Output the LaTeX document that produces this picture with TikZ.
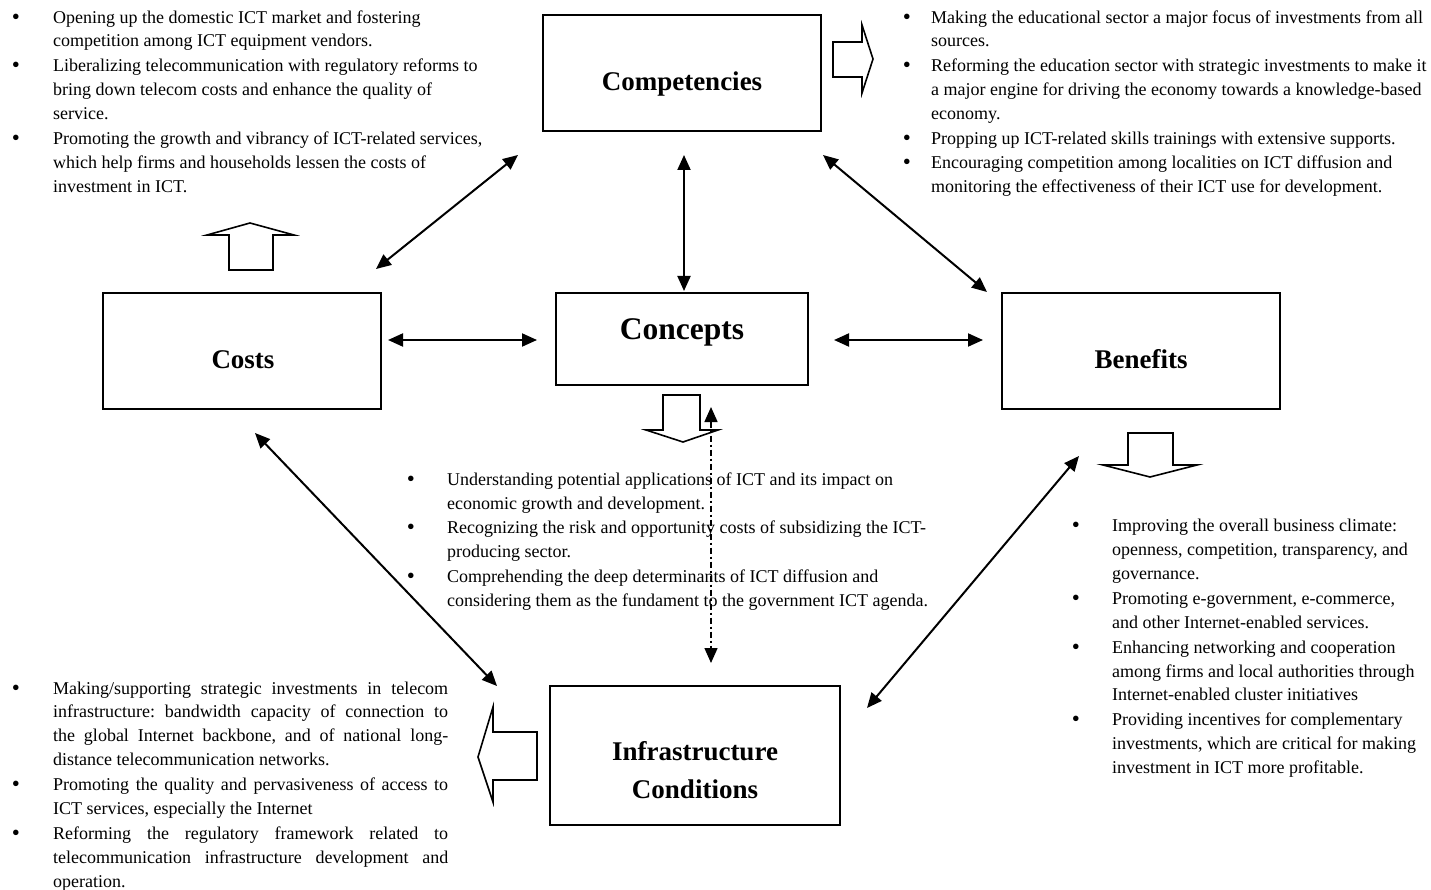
\documentclass[tikz,border=0pt]{standalone}
\usepackage{fontspec}
\setmainfont{Liberation Serif}
\usetikzlibrary{arrows.meta}
\begin{document}
\begin{tikzpicture}[x=1pt,y=-1pt,
  box/.style={draw,line width=1.8pt,inner sep=0pt},
  conn/.style={line width=2pt,{Triangle[length=15pt,width=13pt]}-{Triangle[length=15pt,width=13pt]}},
  dconn/.style={line width=1.5pt,dash pattern=on 6pt off 3pt on 2pt off 3pt,{Triangle[length=15pt,width=13pt]}-{Triangle[length=15pt,width=13pt]}},
  blk/.style={draw,line width=1.6pt,line join=miter},
  head/.style={font=\fontsize{27}{30}\selectfont\bfseries,anchor=base,inner sep=0pt},
  body/.style={font=\fontsize{18}{22}\selectfont\frenchspacing,anchor=base west,inner sep=0pt},
  bul/.style={font=\fontsize{23}{23}\selectfont,anchor=center,inner sep=0pt},
]
\useasboundingbox (0,0) rectangle (1431,890);
\fill[white] (0,0) rectangle (1431,890);

% boxes
\node[box,minimum width=278pt,minimum height=116pt] (comp) at (682,73) {};
\node[box,minimum width=278pt,minimum height=116pt] (costs) at (242,351) {};
\node[box,minimum width=252pt,minimum height=92pt] (conc) at (682,339) {};
\node[box,minimum width=278pt,minimum height=116pt] (bene) at (1141,351) {};
\node[box,minimum width=290pt,minimum height=139pt] (infra) at (695,755.5) {};

% headings
\node[head] (compL) at (682,91) {Competencies};
\node[head,font=\fontsize{31.5}{34}\selectfont\bfseries] (concL) at (682,339) {Concepts};
\node[head] (costsL) at (243,368) {Costs};
\node[head] (beneL) at (1141,368) {Benefits};
\node[head] (infraL1) at (695,760) {Infrastructure};
\node[head] (infraL2) at (695,798) {Conditions};

% block arrows
\draw[blk] (833,42) -- (862,42) -- (862,25) -- (873,59) -- (862,93) -- (862,77) -- (833,77) -- cycle;
\draw[blk] (229,270) -- (229,235) -- (207,235) -- (250,223) -- (294,235) -- (273,235) -- (273,270) -- cycle;
\draw[blk] (663,395) -- (700,395) -- (700,430) -- (718,430) -- (683,442) -- (646,430) -- (663,430) -- cycle;
\draw[blk] (1128,433) -- (1173,433) -- (1173,465) -- (1197,465) -- (1150,477) -- (1103,465) -- (1128,465) -- cycle;
\draw[blk] (537,732) -- (493,732) -- (493,707) -- (478,757) -- (493,802) -- (493,780) -- (537,780) -- cycle;

% connector end points
\coordinate (a1) at (518,155); \coordinate (b1) at (376,269);
\coordinate (a2) at (684,155); \coordinate (b2) at (684,291);
\coordinate (a3) at (823,155); \coordinate (b3) at (987,292);
\coordinate (a4) at (388,340); \coordinate (b4) at (537,340);
\coordinate (a5) at (834,340); \coordinate (b5) at (983,340);
\coordinate (a6) at (255,433); \coordinate (b6) at (497,686);
\coordinate (a7) at (1079,456); \coordinate (b7) at (867,708);
\coordinate (a8) at (711,407); \coordinate (b8) at (711,663);
\draw[conn] (a1) -- (b1);
\draw[conn] (a2) -- (b2);
\draw[conn] (a3) -- (b3);
\draw[conn] (a4) -- (b4);
\draw[conn] (a5) -- (b5);
\draw[conn] (a6) -- (b6);
\draw[conn] (a7) -- (b7);
\draw[dconn] (a8) -- (b8);

\begin{scope}[yshift=-2.5pt]
% top-left text
\node[bul] (tlb1) at (16,17) {\textbullet};
\node[body] (tl1) at (53,21) {Opening up the domestic ICT market and fostering};
\node[body] (tl2) at (53,44) {competition among ICT equipment vendors.};
\node[bul] (tlb2) at (16,65) {\textbullet};
\node[body] (tl3) at (53,69) {Liberalizing telecommunication with regulatory reforms to};
\node[body] (tl4) at (53,93) {bring down telecom costs and enhance the quality of};
\node[body] (tl5) at (53,117) {service.};
\node[bul] (tlb3) at (16,138) {\textbullet};
\node[body] (tl6) at (53,142) {Promoting the growth and vibrancy of ICT-related services,};
\node[body] (tl7) at (53,166) {which help firms and households lessen the costs of};
\node[body] (tl8) at (53,190) {investment in ICT.};

% top-right text
\node[bul] (trb1) at (907,17) {\textbullet};
\node[body] (tr1) at (931,21) {Making the educational sector a major focus of investments from all};
\node[body] (tr2) at (931,44) {sources.};
\node[bul] (trb2) at (907,65) {\textbullet};
\node[body] (tr3) at (931,69) {Reforming the education sector with strategic investments to make it};
\node[body] (tr4) at (931,93) {a major engine for driving the economy towards a knowledge-based};
\node[body] (tr5) at (931,117) {economy.};
\node[bul] (trb3) at (907,138) {\textbullet};
\node[body] (tr6) at (931,142) {Propping up ICT-related skills trainings with extensive supports.};
\node[bul] (trb4) at (907,162) {\textbullet};
\node[body] (tr7) at (931,166) {Encouraging competition among localities on ICT diffusion and};
\node[body] (tr8) at (931,190) {monitoring the effectiveness of their ICT use for development.};

% middle text
\node[bul] (mb1) at (411,479) {\textbullet};
\node[body] (m1) at (447,483) {Understanding potential applications of ICT and its impact on};
\node[body] (m2) at (447,507) {economic growth and development.};
\node[bul] (mb2) at (411,527) {\textbullet};
\node[body] (m3) at (447,531) {Recognizing the risk and opportunity costs of subsidizing the ICT-};
\node[body] (m4) at (447,555) {producing sector.};
\node[bul] (mb3) at (411,576) {\textbullet};
\node[body] (m5) at (447,580) {Comprehending the deep determinants of ICT diffusion and};
\node[body] (m6) at (447,604) {considering them as the fundament to the government ICT agenda.};

% right text
\node[bul] (rb1) at (1076,525) {\textbullet};
\node[body] (r1) at (1112,529) {Improving the overall business climate:};
\node[body] (r2) at (1112,553) {openness, competition, transparency, and};
\node[body] (r3) at (1112,577) {governance.};
\node[bul] (rb2) at (1076,598) {\textbullet};
\node[body] (r4) at (1112,602) {Promoting e-government, e-commerce,};
\node[body] (r5) at (1112,626) {and other Internet-enabled services.};
\node[bul] (rb3) at (1076,647) {\textbullet};
\node[body] (r6) at (1112,651) {Enhancing networking and cooperation};
\node[body] (r7) at (1112,675) {among firms and local authorities through};
\node[body] (r8) at (1112,698) {Internet-enabled cluster initiatives};
\node[bul] (rb4) at (1076,719) {\textbullet};
\node[body] (r9) at (1112,723) {Providing incentives for complementary};
\node[body] (r10) at (1112,747) {investments, which are critical for making};
\node[body] (r11) at (1112,771) {investment in ICT more profitable.};

% bottom-left text
\node[bul] (blb1) at (16,688) {\textbullet};
\node[body] (bl1) at (53,692) {\makebox[395pt][s]{Making/supporting strategic investments in telecom}};
\node[body] (bl2) at (53,715) {\makebox[395pt][s]{infrastructure: bandwidth capacity of connection to}};
\node[body] (bl3) at (53,739) {\makebox[395pt][s]{the global Internet backbone, and of national long-}};
\node[body] (bl4) at (53,763) {distance telecommunication networks.};
\node[bul] (blb2) at (16,784) {\textbullet};
\node[body] (bl5) at (53,788) {\makebox[395pt][s]{Promoting the quality and pervasiveness of access to}};
\node[body] (bl6) at (53,812) {ICT services, especially the Internet};
\node[bul] (blb3) at (16,833) {\textbullet};
\node[body] (bl7) at (53,837) {\makebox[395pt][s]{Reforming the regulatory framework related to}};
\node[body] (bl8) at (53,861) {\makebox[395pt][s]{telecommunication infrastructure development and}};
\node[body] (bl9) at (53,885) {operation.};
\end{scope}
\end{tikzpicture}
\end{document}
